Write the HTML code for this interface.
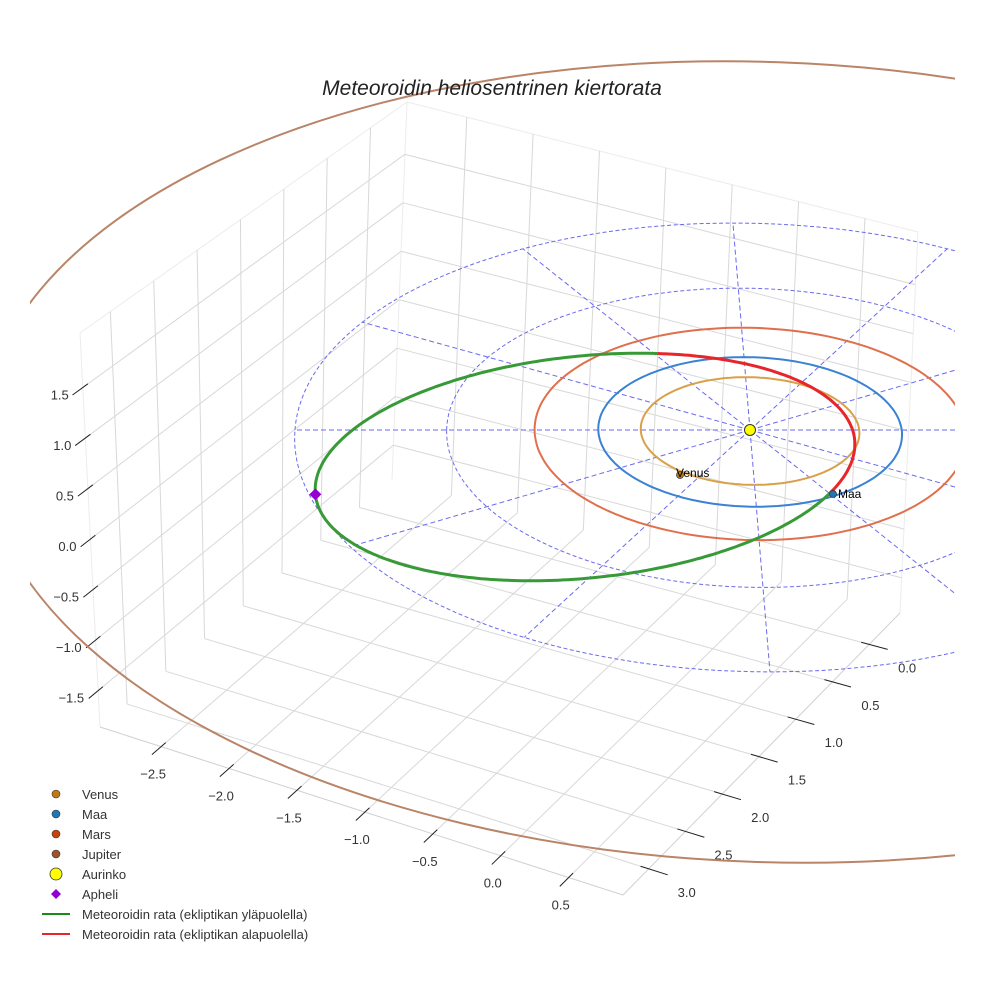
<!DOCTYPE html>
<html><head><meta charset="utf-8"><style>
body{margin:0;background:#fff}
svg{display:block;font-family:"Liberation Sans",sans-serif}
</style></head><body>
<svg id="chart" width="984" height="984" viewBox="0 0 984 984" xmlns="http://www.w3.org/2000/svg">
<rect width="984" height="984" fill="#fff"/>
<defs><clipPath id="clip"><rect x="30" y="0" width="925" height="984"/></clipPath></defs>
<g id="grid"></g>
<g id="ticks"></g>
<g id="orbits" clip-path="url(#clip)"></g>
<text x="492" y="95" text-anchor="middle" font-size="21" font-style="italic" fill="#222">Meteoroidin heliosentrinen kiertorata</text>
<g id="legend"></g>
</svg>
<script>
const NS="http://www.w3.org/2000/svg";
// axis data
const xTicks=[-2.5,-2.0,-1.5,-1.0,-0.5,0.0,0.5];
const yTicks=[0.0,0.5,1.0,1.5,2.0,2.5,3.0];
const zTicks=[-1.5,-1.0,-0.5,0.0,0.5,1.0,1.5];
const xRange=[-2.95,0.90];
const yRange=[-0.42,3.35];
const zRange=[-1.86,2.04];
// orbit data (AU)
const planetNames=["Venus","Maa","Mars"];
const planetRadius=[0.72,1.0,1.42];
const planetColors=["#d9a04a","#3a82d2","#e0704c"];
const jupiterEllipse=[765,462,785,400];
const ringRadius=[1,2,3];
const radialAngles=[0,30,60,90,120,150,180,210,240,270,300,330];
// meteoroid orbit (parametric ellipse, screen)
const metCenter=[585,467], metRx=271, metRy=111, metRot=-5.8;
const metRedStart=-72, metRedEnd=27;
const sun=[750,430];

function el(tag,attrs,parent){const e=document.createElementNS(NS,tag);for(const k in attrs)e.setAttribute(k,attrs[k]);parent.appendChild(e);return e;}
function lerp(a,b,t){return [a[0]+(b[0]-a[0])*t,a[1]+(b[1]-a[1])*t];}
const B=[392,480],R=[900,613],L=[100,727],F=[623,895];
const Bt=[407,102],Rt=[918,232],Lt=[80,333],Ft=[591,463];
function P(x,y,z){
 const u=(x-xRange[0])/(xRange[1]-xRange[0]);
 const v=(y-yRange[0])/(yRange[1]-yRange[0]);
 const w=(z-zRange[0])/(zRange[1]-zRange[0]);
 const bot=lerp(lerp(B,R,u),lerp(L,F,u),v);
 const top=lerp(lerp(Bt,Rt,u),lerp(Lt,Ft,u),v);
 return lerp(bot,top,w);
}
// ecliptic projection
function E(r,deg){const t=deg*Math.PI/180;const c=Math.cos(t),s=Math.sin(t);
 const ax=-151.7*r*c-6.17*r*s, ay=-74.8*r*s;const f=1+0.000347*ay;
 return [sun[0]+ax*f,sun[1]+ay*f];}
function line(g,a,b,st,w,name){const e=el('line',{x1:a[0],y1:a[1],x2:b[0],y2:b[1],stroke:st,'stroke-width':w},g);

return e;}
const grid=document.getElementById('grid');
const [x0,x1]=xRange,[y0,y1]=yRange,[z0,z1]=zRange;
[[P(x0,y1,z0),P(x0,y1,z1)],[P(x0,y1,z1),P(x0,y0,z1)],[P(x0,y0,z1),P(x1,y0,z1)],[P(x1,y0,z1),P(x1,y0,z0)],[P(x0,y0,z0),P(x0,y0,z1)]].forEach(s=>line(grid,s[0],s[1],"#ececec",1,"pane-edge"));
[[P(x0,y1,z0),P(x1,y1,z0)],[P(x1,y1,z0),P(x1,y0,z0)]].forEach(s=>line(grid,s[0],s[1],"#d0d0d0",1,"axis-line"));
xTicks.forEach(x=>{line(grid,P(x,y1,z0),P(x,y0,z0),"#d8d8d8",1,"x-gridline");line(grid,P(x,y0,z0),P(x,y0,z1),"#d8d8d8",1,"x-gridline");});
yTicks.forEach(y=>{line(grid,P(x1,y,z0),P(x0,y,z0),"#d8d8d8",1,"y-gridline");line(grid,P(x0,y,z0),P(x0,y,z1),"#d8d8d8",1,"y-gridline");});
zTicks.forEach(z=>{line(grid,P(x0,y1,z),P(x0,y0,z),"#d8d8d8",1,"z-gridline");line(grid,P(x0,y0,z),P(x1,y0,z),"#d8d8d8",1,"z-gridline");});
const tk=document.getElementById('ticks');
function fmt(v){return (v<0?"\u2212":"")+Math.abs(v).toFixed(1);}
function label(g,p,txt,anchor,name){const t=el('text',{x:p[0],y:p[1],'font-size':13,fill:'#333','text-anchor':anchor},g);t.textContent=txt;

}
xTicks.forEach(x=>{const a=P(x,y1+0.12,z0),b=P(x,y1-0.06,z0);line(tk,a,b,"#222",1,"x-tick");const c=P(x,y1,z0);label(tk,[c[0]-8,c[1]+32],fmt(x),"middle","x-tick-label");});
yTicks.forEach(y=>{const a=P(x1-0.06,y,z0),b=P(x1+0.14,y,z0);line(tk,a,b,"#222",1,"y-tick");const c=P(x1,y,z0);label(tk,[c[0]+38,c[1]+28],fmt(y),"middle","y-tick-label");});
zTicks.forEach(z=>{const a=P(x0,y1+0.12,z),b=P(x0,y1-0.06,z);line(tk,a,b,"#222",1,"z-tick");const c=P(x0,y1,z);label(tk,[c[0]-14,c[1]+12],fmt(z),"end","z-tick-label");});
const orb=document.getElementById('orbits');
function circ(r){let d="";for(let a=0;a<=360;a+=2){const p=E(r,a);d+=(d?"L":"M")+p[0].toFixed(1)+","+p[1].toFixed(1);}return d+"Z";}
ringRadius.forEach(r=>{const e=el('path',{d:circ(r),fill:'none',stroke:'#6a6aee','stroke-width':1,'stroke-dasharray':'4,2.5'},orb);

});
radialAngles.forEach(a=>{const p=E(ringRadius[ringRadius.length-1],a);
const e=el('line',{x1:sun[0],y1:sun[1],x2:p[0],y2:p[1],stroke:'#6a6aee','stroke-width':1,'stroke-dasharray':'5,3'},orb);

});
let e=el('ellipse',{cx:jupiterEllipse[0],cy:jupiterEllipse[1],rx:jupiterEllipse[2],ry:jupiterEllipse[3],fill:'none',stroke:'#b98468','stroke-width':2,transform:`rotate(2 ${jupiterEllipse[0]} ${jupiterEllipse[1]})`},orb);


planetNames.forEach((n,i)=>{const e=el('path',{d:circ(planetRadius[i]),fill:'none',stroke:planetColors[i],'stroke-width':2},orb);

});
function metPt(tDeg){const t=tDeg*Math.PI/180,r=metRot*Math.PI/180;const lx=metRx*Math.cos(t),ly=metRy*Math.sin(t);
return [metCenter[0]+lx*Math.cos(r)-ly*Math.sin(r),metCenter[1]+lx*Math.sin(r)+ly*Math.cos(r)];}
function arc(t0,t1){let d="";for(let t=t0;t<=t1+0.01;t+=1){const p=metPt(t);d+=(d?"L":"M")+p[0].toFixed(1)+","+p[1].toFixed(1);}return d;}
e=el('path',{d:arc(metRedEnd,metRedStart+360),fill:'none',stroke:'#379a37','stroke-width':3},orb);


e=el('path',{d:arc(metRedStart,metRedEnd),fill:'none',stroke:'#e8262a','stroke-width':3},orb);


e=el('circle',{cx:sun[0],cy:sun[1],r:5.5,fill:'#ffff00',stroke:'#333','stroke-width':1},orb);


e=el('circle',{cx:680,cy:475,r:3.5,fill:'#c07a10',stroke:'#333','stroke-width':0.7},orb);


e=el('circle',{cx:833,cy:494,r:3.5,fill:'#1f77b4',stroke:'#333','stroke-width':0.7},orb);


const ap=metPt(180);
e=el('path',{d:`M${ap[0]},${ap[1]-6}L${ap[0]+6},${ap[1]}L${ap[0]},${ap[1]+6}L${ap[0]-6},${ap[1]}Z`,fill:'#9400d3'},orb);


label(orb,[676,477],"Venus","start","venus-label");
label(orb,[838,498],"Maa","start","earth-label");
orb.querySelectorAll('text').forEach(t=>{t.setAttribute('font-size','12');t.setAttribute('fill','#000');});
const lg=document.getElementById('legend');
const legNames=["Venus","Maa","Mars","Jupiter","Aurinko","Apheli","Meteoroidin rata (ekliptikan yläpuolella)","Meteoroidin rata (ekliptikan alapuolella)"];
const legColors=["#c07a10","#1f77b4","#c8420e","#a0522d","#ffff00","#9400d3","#1a8a1a","#e8262a"];
legNames.forEach((n,i)=>{const y=794+i*20;const g=el('g',{},lg);


if(i<4)el('circle',{cx:56,cy:y,r:4,fill:legColors[i],stroke:'#333','stroke-width':0.6},g);
else if(i==4)el('circle',{cx:56,cy:y,r:6,fill:legColors[i],stroke:'#333','stroke-width':0.8},g);
else if(i==5)el('path',{d:`M56,${y-5}L61,${y}L56,${y+5}L51,${y}Z`,fill:legColors[i]},g);
else el('line',{x1:42,y1:y,x2:70,y2:y,stroke:legColors[i],'stroke-width':2},g);
const t=el('text',{x:82,y:y+5,'font-size':13,fill:'#333'},g);t.textContent=n;});
</script>
</body></html>
